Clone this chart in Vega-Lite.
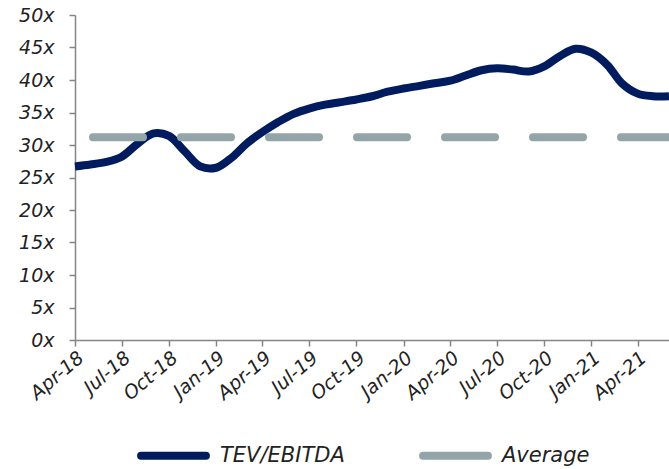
{
  "$schema": "https://vega.github.io/schema/vega-lite/v6.json",
  "width": 594,
  "height": 325,
  "autosize": {"type": "none"},
  "padding": {"left": 75, "top": 15, "right": 0, "bottom": 129},
  "config": {
    "view": {"stroke": null},
    "font": "DejaVu Sans",
    "axis": {
      "grid": false,
      "title": null,
      "domainColor": "#858585",
      "domainWidth": 1.5,
      "tickColor": "#858585",
      "tickWidth": 1.5,
      "tickSize": 6,
      "labelFont": "DejaVu Sans",
      "labelFontSize": 19,
      "labelFontStyle": "italic",
      "labelColor": "#222222"
    },
    "legend": {
      "labelFont": "DejaVu Sans",
      "labelFontSize": 21,
      "labelFontStyle": "italic",
      "labelColor": "#222222"
    }
  },
  "datasets": {
    "tev": [
      {"date": "2018-04-01", "value": 26.7, "series": "TEV/EBITDA"},
      {"date": "2018-05-01", "value": 27.0, "series": "TEV/EBITDA"},
      {"date": "2018-06-01", "value": 27.4, "series": "TEV/EBITDA"},
      {"date": "2018-07-01", "value": 28.2, "series": "TEV/EBITDA"},
      {"date": "2018-08-01", "value": 30.2, "series": "TEV/EBITDA"},
      {"date": "2018-09-01", "value": 31.8, "series": "TEV/EBITDA"},
      {"date": "2018-10-01", "value": 31.4, "series": "TEV/EBITDA"},
      {"date": "2018-11-01", "value": 29.0, "series": "TEV/EBITDA"},
      {"date": "2018-12-01", "value": 26.7, "series": "TEV/EBITDA"},
      {"date": "2019-01-01", "value": 26.5, "series": "TEV/EBITDA"},
      {"date": "2019-02-01", "value": 28.1, "series": "TEV/EBITDA"},
      {"date": "2019-03-01", "value": 30.2, "series": "TEV/EBITDA"},
      {"date": "2019-04-01", "value": 32.0, "series": "TEV/EBITDA"},
      {"date": "2019-05-01", "value": 33.5, "series": "TEV/EBITDA"},
      {"date": "2019-06-01", "value": 34.8, "series": "TEV/EBITDA"},
      {"date": "2019-07-01", "value": 35.6, "series": "TEV/EBITDA"},
      {"date": "2019-08-01", "value": 36.2, "series": "TEV/EBITDA"},
      {"date": "2019-09-01", "value": 36.6, "series": "TEV/EBITDA"},
      {"date": "2019-10-01", "value": 37.0, "series": "TEV/EBITDA"},
      {"date": "2019-11-01", "value": 37.5, "series": "TEV/EBITDA"},
      {"date": "2019-12-01", "value": 38.2, "series": "TEV/EBITDA"},
      {"date": "2020-01-01", "value": 38.7, "series": "TEV/EBITDA"},
      {"date": "2020-02-01", "value": 39.1, "series": "TEV/EBITDA"},
      {"date": "2020-03-01", "value": 39.5, "series": "TEV/EBITDA"},
      {"date": "2020-04-01", "value": 39.9, "series": "TEV/EBITDA"},
      {"date": "2020-05-01", "value": 40.7, "series": "TEV/EBITDA"},
      {"date": "2020-06-01", "value": 41.5, "series": "TEV/EBITDA"},
      {"date": "2020-07-01", "value": 41.8, "series": "TEV/EBITDA"},
      {"date": "2020-08-01", "value": 41.6, "series": "TEV/EBITDA"},
      {"date": "2020-09-01", "value": 41.3, "series": "TEV/EBITDA"},
      {"date": "2020-10-01", "value": 42.1, "series": "TEV/EBITDA"},
      {"date": "2020-11-01", "value": 43.7, "series": "TEV/EBITDA"},
      {"date": "2020-12-01", "value": 44.8, "series": "TEV/EBITDA"},
      {"date": "2021-01-01", "value": 44.2, "series": "TEV/EBITDA"},
      {"date": "2021-02-01", "value": 42.3, "series": "TEV/EBITDA"},
      {"date": "2021-03-01", "value": 39.5, "series": "TEV/EBITDA"},
      {"date": "2021-04-01", "value": 37.9, "series": "TEV/EBITDA"},
      {"date": "2021-05-01", "value": 37.5, "series": "TEV/EBITDA"},
      {"date": "2021-06-01", "value": 37.5, "series": "TEV/EBITDA"}
    ],
    "avg": [
      {"date": "2018-04-01", "value": 31.2, "series": "Average"},
      {"date": "2021-06-01", "value": 31.2, "series": "Average"}
    ]
  },
  "encoding": {
    "x": {
      "field": "date",
      "type": "temporal",
      "scale": {
        "type": "utc",
        "nice": false,
        "domain": [
          {"year": 2018, "month": 4, "date": 1, "utc": true},
          {"year": 2021, "month": 6, "date": 1, "utc": true}
        ]
      },
      "axis": {
        "tickCount": {"interval": "month", "step": 3},
        "labelExpr": "utcFormat(datum.value, '%b-%y')",
        "labelAngle": -40,
        "labelPadding": 2,
        "labelOverlap": false
      }
    },
    "y": {
      "field": "value",
      "type": "quantitative",
      "scale": {"domain": [0, 50], "nice": false},
      "axis": {
        "values": [0, 5, 10, 15, 20, 25, 30, 35, 40, 45, 50],
        "labelExpr": "datum.value + 'x'",
        "labelPadding": 15
      }
    },
    "color": {
      "field": "series",
      "type": "nominal",
      "scale": {"domain": ["TEV/EBITDA", "Average"], "range": ["#001B5E", "#93A5A8"]},
      "legend": {
        "title": null,
        "orient": "none",
        "direction": "horizontal",
        "legendX": 62,
        "legendY": 404,
        "padding": 0,
        "symbolType": "stroke",
        "symbolSize": 4200,
        "symbolStrokeWidth": 8,
        "labelOffset": 10,
        "columnPadding": 62,
        "encode": {"symbols": {"update": {"strokeCap": {"value": "round"}}}}
      }
    }
  },
  "layer": [
    {
      "data": {"name": "tev"},
      "mark": {"type": "line", "interpolate": "catmull-rom", "strokeWidth": 8, "strokeCap": "butt"}
    },
    {
      "data": {"name": "avg"},
      "mark": {"type": "line", "strokeWidth": 8, "strokeCap": "round", "strokeDash": [50, 38], "strokeDashOffset": 70}
    }
  ]
}
